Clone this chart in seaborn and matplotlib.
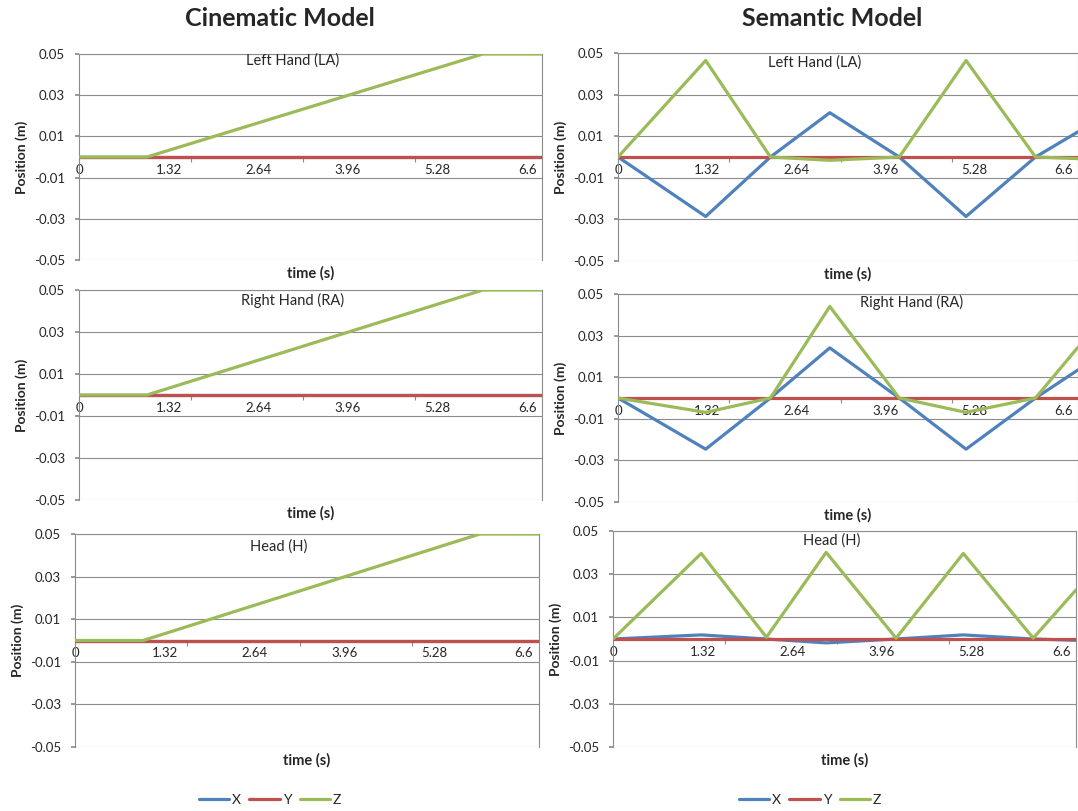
import numpy as np
import pandas as pd
import matplotlib
matplotlib.use("Agg")
import matplotlib.pyplot as plt
import seaborn as sns
from matplotlib.lines import Line2D

# time samples (s)
t_cin = [0, 1.0, 5.95, 6.82]
t_sem = [0, 1.30, 2.26, 3.14, 4.17, 5.16, 6.19, 6.82]

# Cinematic model
cin_la_x = [0, 0, 0, 0]
cin_la_y = [0, 0, 0, 0]
cin_la_z = [0, 0, 0.05, 0.05]
cin_ra_x = [0, 0, 0, 0]
cin_ra_y = [0, 0, 0, 0]
cin_ra_z = [0, 0, 0.05, 0.05]
cin_h_x = [0, 0, 0, 0]
cin_h_y = [0, 0, 0, 0]
cin_h_z = [0, 0, 0.05, 0.05]

# Semantic model
sem_la_x = [0, -0.0286, 0, 0.0213, 0, -0.0286, 0, 0.0121]
sem_la_y = [0, 0, 0, 0, 0, 0, 0, 0]
sem_la_z = [0, 0.0464, 0, -0.0016, 0, 0.0464, 0, -0.0008]
sem_ra_x = [0, -0.0246, 0, 0.0241, 0, -0.0246, 0, 0.0135]
sem_ra_y = [0, 0, 0, 0, 0, 0, 0, 0]
sem_ra_z = [0, -0.0069, 0, 0.0440, 0, -0.0069, 0, 0.0244]
sem_h_x = [0, 0.0019, 0, -0.0018, 0, 0.0019, 0, -0.0006]
sem_h_y = [0, 0, 0, 0, 0, 0, 0, 0]
sem_h_z = [0, 0.0396, 0.0008, 0.0401, 0.0004, 0.0396, 0.0004, 0.0227]

x_ticks = [0, 1.32, 2.64, 3.96, 5.28, 6.6]
x_labels = ["0", "1.32", "2.64", "3.96", "5.28", "6.6"]
x_minor = [1.65, 3.30, 4.95, 6.60]
y_ticks = [-0.05, -0.03, -0.01, 0.01, 0.03, 0.05]
y_labels = ["-0.05", "-0.03", "-0.01", "0.01", "0.03", "0.05"]

series_names = ["X", "Y", "Z"]
colors = ["#4F81BD", "#C0504D", "#9BBB59"]
grey = "#8c8c8c"

sns.set_theme(style="white")
plt.rcParams["font.family"] = ["Lato", "DejaVu Sans"]

W, H = 1078, 811
fig = plt.figure(figsize=(W / 100, H / 100), dpi=100)


def add_ax(left, top, right, bottom):
    return fig.add_axes([left / W, 1 - bottom / H, (right - left) / W, (bottom - top) / H])


def panel_df(t, xs, ys, zs):
    parts = []
    for name, vals in zip(series_names, [xs, ys, zs]):
        parts.append(pd.DataFrame({"time": t, "pos": vals, "axis": name}))
    return pd.concat(parts, ignore_index=True)


panels = [
    # box, data, label, label pos
    ((79, 54, 542, 260), panel_df(t_cin, cin_la_x, cin_la_y, cin_la_z), "Left Hand (LA)", (0.462, 0.97)),
    ((79, 290, 542, 500), panel_df(t_cin, cin_ra_x, cin_ra_y, cin_ra_z), "Right Hand (RA)", (0.462, 0.952)),
    ((75, 534, 539, 747), panel_df(t_cin, cin_h_x, cin_h_y, cin_h_z), "Head (H)", (0.44, 0.939)),
    ((618, 53, 1078, 261), panel_df(t_sem, sem_la_x, sem_la_y, sem_la_z), "Left Hand (LA)", (0.428, 0.952)),
    ((618, 294, 1078, 502), panel_df(t_sem, sem_ra_x, sem_ra_y, sem_ra_z), "Right Hand (RA)", (0.639, 0.957)),
    ((613, 531, 1076, 747), panel_df(t_sem, sem_h_x, sem_h_y, sem_h_z), "Head (H)", (0.472, 0.958)),
]

for box, df, label, lpos in panels:
    ax = add_ax(*box)
    sns.lineplot(data=df, x="time", y="pos", hue="axis", hue_order=series_names,
                 palette=colors, linewidth=2.3, legend=False, ax=ax,
                 estimator=None, sort=False)
    for ln in ax.get_lines():
        ln.set_zorder(3)
    ax.set_xlim(0, 6.82)
    ax.set_ylim(-0.05, 0.05)
    ax.set_yticks(y_ticks)
    ax.set_yticklabels(y_labels)
    ax.set_xticks(x_ticks)
    ax.set_xticklabels(x_labels)
    ax.set_xticks(x_minor, minor=True)
    ax.yaxis.grid(True, color=grey, linewidth=0.8)
    ax.xaxis.grid(False)
    for s in ["left", "right", "top", "bottom"]:
        ax.spines[s].set_color(grey)
        ax.spines[s].set_linewidth(0.8)
    ax.spines["bottom"].set_position(("data", 0))
    ax.tick_params(axis="y", left=True, length=3, color=grey, pad=7, labelsize=9.5)
    ax.tick_params(axis="x", which="major", bottom=True, length=0, pad=5, labelsize=9.5)
    ax.tick_params(axis="x", which="minor", bottom=True, length=3.5, color=grey, width=0.8)
    ax.set_xlabel("time (s)", fontweight="bold", fontsize=10.5)
    ax.xaxis.set_label_coords(0.5, -0.03)
    ax.set_ylabel("Position (m)", fontweight="bold", fontsize=10)
    ax.yaxis.set_label_coords(-0.11, 0.5)
    ax.text(lpos[0], lpos[1], label, transform=ax.transAxes, ha="center", va="center", fontsize=10.5)

fig.text(280 / W, 1 - 18 / H, "Cinematic Model", ha="center", va="center", fontsize=18, fontweight="bold")
fig.text(832 / W, 1 - 18 / H, "Semantic Model", ha="center", va="center", fontsize=18, fontweight="bold")

handles = [Line2D([0], [0], color=c, lw=2.3) for c in colors]
for cx in [270, 810]:
    fig.legend(handles, series_names, loc="center", bbox_to_anchor=(cx / W, 1 - 800 / H),
               ncol=3, frameon=False, handlelength=2.2, handletextpad=0.2,
               columnspacing=0.6, fontsize=10)

fig.savefig("out.png", dpi=100)
